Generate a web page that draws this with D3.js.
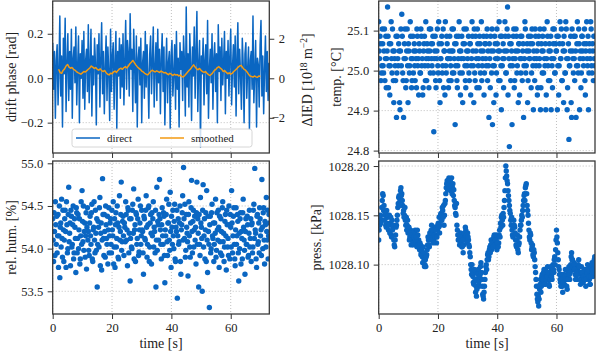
<!DOCTYPE html>
<html>
<head>
<meta charset="utf-8">
<script src="https://cdn.jsdelivr.net/npm/d3@7"></script>
<style>
  body { margin: 0; background: #fff; }
  svg { display: block; font-family: "Liberation Serif", "DejaVu Serif", serif; }
</style>
</head>
<body>
<svg id="fig" width="596" height="354"></svg>
<script>
// sampling step of all series [s]; the *B arrays are sampled halfway between
var dt = 0.3;

// drift phase [rad], direct
var driftPhase = [
  0.16, -0.05, 0.12, -0.18, 0.08, 0.15, -0.12, 0.04, 0.28, -0.08, 0.10, -0.22, 0.18, 0.02, 0.27, -0.15, 0.06, 0.20, -0.10, 0.12,
  -0.05, 0.22, -0.18, 0.09, 0.14, -0.02, 0.23, -0.12, 0.05, 0.19, -0.20, 0.11, 0.00, 0.17, -0.09, 0.21, -0.14, 0.08, 0.13, -0.06,
  0.24, -0.11, 0.06, 0.22, -0.17, 0.10, -0.03, 0.18, 0.07, -0.21, 0.15, 0.02, 0.20, -0.13, 0.09, 0.25, -0.07, 0.12, -0.16, 0.05,
  0.19, -0.10, 0.14, 0.03, -0.19, 0.22, -0.06, 0.10, 0.16, -0.14, 0.07, 0.21, -0.23, 0.12, 0.01, 0.18, -0.09, 0.15, -0.04, 0.20,
  -0.12, 0.08, 0.26, -0.05, 0.17, 0.11, -0.08, 0.29, 0.04, 0.13, -0.15, 0.22, 0.06, -0.11, 0.19, -0.22, 0.09, 0.14, -0.03, 0.18,
  -0.20, 0.07, 0.12, -0.09, 0.21, -0.04, 0.15, 0.01, -0.18, 0.11, 0.19, -0.07, 0.08, 0.23, -0.13, 0.05, 0.16, -0.10, 0.22, -0.02,
  0.13, -0.16, 0.09, 0.20, -0.06, 0.14, -0.21, 0.03, 0.18, -0.11, 0.07, 0.12, -0.23, 0.10, 0.17, -0.08, 0.02, 0.15, -0.14, 0.21,
  -0.05, 0.09, -0.22, 0.16, 0.04, 0.12, -0.10, 0.19, 0.07, -0.17, 0.32, -0.04, 0.11, -0.13, 0.20, 0.06, -0.19, 0.14, 0.01, 0.23,
  -0.09, 0.12, 0.30, -0.15, 0.06, 0.17, -0.31, 0.10, 0.02, 0.18, -0.12, 0.08, 0.15, -0.07, 0.26, -0.18, 0.04, 0.13, -0.02, 0.20,
  -0.14, 0.09, 0.16, -0.06, 0.11, -0.20, 0.24, 0.03, 0.14, -0.10, 0.18, -0.03, 0.07, 0.21, -0.16, 0.12, 0.00, 0.17, -0.08, 0.10,
  0.22, -0.12, 0.05, 0.15, -0.04, 0.19, -0.17, 0.09, 0.25, -0.07, 0.13, 0.02, -0.14, 0.18, 0.06, -0.20, 0.11, 0.16, -0.09, 0.04,
  0.14, -0.23, 0.08, 0.12, -0.05, 0.28, -0.11, 0.03, 0.17, -0.22, 0.09, 0.06, -0.13, 0.15, 0.26, -0.08, 0.10, -0.16, 0.04, 0.19,
  -0.06, 0.12, -0.10, 0.07
];

// drift phase [rad], smoothed (starts at 2 s, every 0.5 s)
var smoothStart = 2.0, smoothStep = 0.5;
var driftSmooth = [
  0.040, 0.025, 0.022, 0.035, 0.042, 0.055, 0.062, 0.050, 0.045, 0.048,
  0.040, 0.036, 0.030, 0.025, 0.022, 0.018, 0.024, 0.030, 0.028, 0.034,
  0.040, 0.046, 0.055, 0.050, 0.044, 0.048, 0.040, 0.036, 0.042, 0.034,
  0.030, 0.035, 0.025, 0.018, 0.015, 0.022, 0.020, 0.028, 0.032, 0.026,
  0.035, 0.042, 0.045, 0.040, 0.048, 0.052, 0.046, 0.055, 0.065, 0.072,
  0.080, 0.070, 0.060, 0.052, 0.045, 0.040, 0.032, 0.028, 0.022, 0.018,
  0.015, 0.022, 0.030, 0.036, 0.032, 0.028, 0.033, 0.030, 0.026, 0.032,
  0.028, 0.024, 0.026, 0.020, 0.016, 0.022, 0.018, 0.012, 0.018, 0.014,
  0.016, 0.010, 0.014, 0.008, 0.005, 0.012, 0.020, 0.028, 0.036, 0.042,
  0.052, 0.060, 0.050, 0.042, 0.038, 0.044, 0.035, 0.030, 0.026, 0.030,
  0.022, 0.016, 0.012, 0.018, 0.026, 0.035, 0.040, 0.048, 0.052, 0.045,
  0.040, 0.030, 0.034, 0.026, 0.020, 0.024, 0.018, 0.022, 0.030, 0.036,
  0.042, 0.050, 0.055, 0.058, 0.048, 0.040, 0.036, 0.028, 0.018, 0.010,
  0.008, 0.005, 0.010, 0.006, 0.004, 0.010, 0.008
];

// temperature [°C]
var temperature = [
  25.122, 25.030, 25.067, 24.994, 25.104, 25.012, 25.049, 24.975, 25.086, 25.030, 25.159, 24.957, 25.067, 25.012, 25.122, 24.994, 25.049, 24.920, 25.030, 24.975,
  24.883, 25.086, 25.012, 25.049, 24.902, 25.104, 25.141, 24.994, 24.883, 25.067, 25.030, 24.975, 25.104, 24.920, 25.049, 25.012, 25.086, 24.957, 25.030, 24.994,
  25.067, 24.975, 25.030, 25.104, 25.012, 24.939, 25.049, 24.994, 25.086, 25.030, 24.957, 25.067, 25.012, 25.122, 24.975, 25.049, 25.030, 25.104, 24.994, 25.067,
  25.012, 25.086, 24.847, 25.049, 24.975, 25.030, 25.104, 24.994, 25.067, 24.920, 25.030, 25.086, 25.012, 24.957, 25.049, 25.122, 24.994, 25.067, 25.030, 24.975,
  25.086, 25.012, 25.049, 24.994, 25.104, 25.030, 24.865, 25.067, 24.975, 25.012, 25.086, 25.049, 24.939, 25.030, 24.994, 25.067, 25.104, 25.012, 24.957, 25.049,
  25.030, 25.086, 24.975, 25.067, 25.012, 25.122, 25.049, 24.920, 24.994, 25.086, 25.030, 25.104, 25.012, 24.957, 25.067, 25.049, 24.975, 25.030, 25.086, 24.994,
  25.067, 25.012, 25.104, 25.049, 24.883, 25.030, 25.086, 24.994, 24.865, 25.049, 25.012, 25.067, 24.939, 25.104, 25.030, 24.975, 25.049, 25.086, 24.902, 25.012,
  25.067, 25.030, 25.122, 24.994, 25.049, 25.159, 25.086, 24.810, 25.012, 25.067, 24.865, 25.030, 25.104, 24.975, 25.049, 25.086, 25.012, 24.920, 25.067, 25.030,
  24.994, 25.086, 25.049, 24.883, 25.030, 25.104, 25.012, 25.067, 24.975, 25.049, 25.030, 25.086, 24.994, 25.067, 24.902, 25.030, 25.104, 25.012, 25.049, 24.957,
  25.086, 25.030, 24.902, 25.067, 24.994, 25.049, 25.104, 25.012, 24.902, 25.030, 25.086, 24.975, 25.067, 25.049, 24.902, 25.012, 25.104, 25.030, 24.994, 25.067,
  25.049, 24.902, 25.086, 25.012, 25.122, 25.030, 24.975, 25.067, 24.920, 25.049, 24.994, 25.104, 24.902, 25.030, 24.828, 25.012, 25.086, 24.883, 25.049, 24.994,
  25.030, 25.086, 24.883, 25.067, 25.012, 25.104, 24.902, 25.049, 24.994, 25.086, 25.030, 25.067, 24.975, 25.049, 25.122, 25.012, 24.902, 25.067, 25.030, 25.104,
  24.994, 25.049, 25.086, 25.012
];
var temperatureB = [
  25.049, 25.086, 24.975, 25.012, 25.067, 24.994, 25.104, 25.030, 24.957, 25.049, 25.086, 25.012, 24.939, 25.067, 25.030, 25.104, 24.975, 25.049, 25.012, 25.086,
  24.994, 25.030, 25.067, 24.920, 25.049, 25.012, 25.086, 24.975, 25.030, 25.104, 24.957, 25.049, 25.012, 25.067, 24.994, 25.122, 25.030, 24.975, 25.086, 25.049,
  25.012, 25.049, 24.957, 25.086, 25.030, 25.067, 24.994, 25.104, 25.012, 24.939, 25.049, 25.086, 24.975, 25.030, 25.067, 25.012, 24.957, 25.049, 25.104, 25.030,
  25.067, 24.994, 25.030, 25.086, 24.957, 25.049, 25.012, 25.122, 24.975, 25.030, 25.067, 24.994, 25.104, 25.049, 24.939, 25.012, 25.086, 25.030, 24.957, 25.049,
  25.030, 24.975, 25.104, 25.049, 24.994, 25.067, 25.012, 25.086, 24.957, 25.030, 25.122, 24.994, 25.049, 25.086, 24.920, 25.030, 25.067, 24.975, 25.104, 25.012,
  25.049, 24.994, 25.067, 24.939, 25.030, 25.086, 25.012, 25.104, 24.975, 25.049, 24.957, 25.067, 25.030, 25.086, 24.994, 25.122, 25.012, 25.049, 24.939, 25.067,
  25.030, 25.086, 24.975, 25.012, 25.067, 24.957, 25.049, 25.104, 25.012, 24.920, 25.086, 25.030, 24.994, 25.067, 25.049, 25.122, 24.975, 25.012, 25.086, 25.030,
  24.957, 25.049, 25.086, 24.994, 25.104, 24.939, 25.030, 25.067, 24.975, 25.049, 25.012, 25.086, 24.957, 25.030, 25.104, 24.994, 25.049, 25.067, 24.939, 25.086,
  25.030, 24.975, 25.067, 25.012, 25.122, 24.994, 25.049, 24.920, 25.086, 25.030, 25.067, 24.957, 25.104, 25.012, 25.049, 24.975, 25.086, 25.030, 24.939, 25.067,
  25.012, 25.104, 24.957, 25.049, 25.086, 24.994, 25.030, 25.067, 24.939, 25.122, 25.012, 25.049, 24.975, 25.086, 25.030, 24.957, 25.067, 25.104, 24.994, 25.049,
  25.086, 25.012, 24.939, 25.067, 25.030, 25.104, 24.975, 25.049, 25.086, 24.994, 25.122, 25.030, 24.957, 25.067, 25.012, 25.049, 24.920, 25.104, 25.030, 25.086,
  24.975, 25.049, 25.012, 25.122, 24.994, 25.067, 25.030, 24.957, 25.086, 25.049, 25.012, 25.104, 24.939, 25.067, 25.030, 25.086, 24.994, 25.049, 25.122, 25.012,
  25.067, 24.975, 25.030, 25.086
];

// relative humidity [%]
var humidity = [
  54.35, 53.85, 54.20, 54.55, 54.05, 53.95, 54.40, 54.15, 53.66, 54.30, 54.58, 53.90, 54.22, 54.10, 54.45, 53.78, 54.28, 54.00, 54.72, 54.18,
  53.80, 54.38, 54.05, 54.50, 53.95, 54.25, 53.72, 54.42, 54.12, 54.00, 54.35, 53.88, 54.55, 54.68, 54.08, 53.98, 54.30, 54.15, 53.76, 54.48,
  54.20, 53.92, 54.38, 54.05, 54.52, 53.85, 54.25, 54.10, 54.45, 53.98, 53.55, 54.32, 54.02, 54.60, 54.18, 53.75, 54.82, 54.12, 54.40, 53.90,
  54.28, 54.05, 53.82, 54.48, 54.15, 54.35, 53.95, 54.22, 54.55, 54.02, 53.78, 54.42, 54.12, 54.30, 53.88, 54.62, 54.20, 54.78, 54.08, 54.38,
  53.92, 54.25, 54.55, 54.10, 53.80, 54.45, 54.18, 53.62, 54.35, 54.00, 54.52, 54.70, 54.22, 53.85, 54.40, 54.12, 54.58, 53.96, 54.30, 54.05,
  54.45, 54.20, 53.70, 54.35, 54.10, 54.62, 53.90, 54.28, 54.50, 54.02, 54.40, 53.82, 54.15, 54.55, 54.25, 53.95, 53.55, 54.72, 54.32, 54.10,
  54.81, 54.22, 53.88, 54.48, 54.05, 54.38, 53.60, 54.15, 54.58, 53.92, 54.30, 54.10, 54.66, 53.78, 54.25, 54.45, 54.00, 54.52, 53.85, 54.20,
  53.42, 54.35, 54.08, 54.50, 53.70, 54.28, 54.62, 54.95, 54.12, 53.90, 54.40, 54.18, 53.68, 54.55, 54.02, 54.30, 54.80, 53.95, 54.45, 54.22,
  54.10, 53.82, 54.78, 54.35, 53.55, 54.05, 54.60, 54.25, 53.50, 54.75, 54.15, 53.88, 54.42, 54.68, 53.72, 54.20, 53.31, 54.38, 54.00, 54.52,
  54.12, 53.85, 54.30, 54.58, 53.98, 54.22, 54.45, 53.78, 54.08, 54.35, 53.92, 54.55, 54.18, 54.02, 54.40, 53.75, 54.28, 54.12, 54.50, 53.88,
  54.25, 54.68, 53.95, 54.38, 54.05, 53.80, 54.48, 54.15, 54.32, 53.62, 54.00, 54.42, 54.20, 53.88, 54.58, 54.10, 53.70, 54.35, 54.05, 54.28,
  53.92, 54.45, 54.12, 53.85, 54.30, 54.02, 54.52, 54.94, 54.18, 53.78, 54.40, 54.08, 53.95, 54.35, 54.22, 54.81, 54.00, 54.48, 53.82, 54.28,
  54.60, 54.10, 53.88, 54.40
];
var humidityB = [
  54.10, 54.42, 53.92, 54.28, 54.38, 54.15, 53.78, 54.50, 54.25, 54.02, 54.12, 54.45, 53.85, 54.35, 54.20, 54.55, 53.95, 54.40, 54.08, 54.30,
  54.45, 54.02, 54.28, 53.88, 54.35, 54.12, 54.48, 53.95, 54.40, 54.22, 53.82, 54.15, 54.05, 54.32, 54.50, 54.20, 53.90, 54.42, 54.25, 54.10,
  53.98, 54.30, 54.15, 54.42, 53.88, 54.22, 54.55, 53.95, 54.18, 54.35, 54.05, 54.25, 54.48, 53.80, 54.30, 54.10, 54.40, 53.92, 54.20, 54.50,
  54.12, 54.38, 54.22, 53.95, 54.30, 54.05, 54.45, 54.15, 53.82, 54.35, 54.28, 54.02, 54.50, 53.90, 54.25, 54.10, 54.40, 53.98, 54.32, 54.15,
  54.30, 54.08, 54.40, 54.22, 54.48, 53.95, 54.35, 54.12, 54.02, 54.45, 54.18, 53.88, 54.28, 54.42, 54.05, 54.35, 53.92, 54.22, 54.50, 54.15,
  54.22, 53.95, 54.38, 54.12, 54.45, 54.25, 54.05, 54.48, 53.85, 54.30, 54.18, 54.42, 54.35, 54.02, 54.20, 54.45, 54.10, 53.98, 54.28, 54.40,
  54.35, 54.05, 54.28, 54.15, 54.42, 53.92, 54.22, 54.40, 54.08, 54.30, 54.52, 53.98, 54.20, 54.38, 54.05, 54.15, 54.32, 53.88, 54.25, 54.45,
  54.15, 54.05, 54.30, 53.85, 54.22, 54.42, 54.10, 54.35, 54.52, 53.98, 54.25, 54.08, 54.40, 54.15, 53.90, 54.48, 54.20, 54.32, 54.02, 54.38,
  54.25, 54.42, 54.05, 54.18, 54.40, 53.92, 54.30, 54.12, 54.45, 54.02, 54.35, 54.22, 53.85, 54.10, 54.38, 54.05, 54.28, 53.95, 54.42, 54.15,
  54.30, 54.05, 54.18, 53.90, 54.42, 54.10, 54.25, 54.38, 53.95, 54.20, 54.48, 54.08, 53.85, 54.32, 54.15, 54.45, 54.02, 53.92, 54.28, 54.40,
  54.02, 54.30, 54.15, 54.48, 53.88, 54.22, 54.05, 54.40, 53.95, 54.18, 54.35, 53.82, 54.12, 54.42, 54.25, 53.98, 54.20, 54.05, 54.38, 53.90,
  54.18, 54.02, 54.35, 54.28, 53.95, 54.45, 54.12, 54.22, 53.88, 54.38, 54.05, 54.30, 54.48, 54.15, 53.92, 54.25, 54.42, 54.10, 54.32, 54.02,
  54.20, 54.45, 54.15, 54.30
];

// pressure [kPa]
var pressure = [
  1028.125, 1028.140, 1028.150, 1028.145, 1028.165, 1028.170, 1028.160, 1028.150, 1028.140, 1028.155, 1028.148, 1028.135, 1028.150, 1028.142, 1028.130, 1028.145, 1028.138, 1028.125, 1028.118, 1028.130,
  1028.140, 1028.150, 1028.162, 1028.170, 1028.165, 1028.178, 1028.172, 1028.160, 1028.155, 1028.150, 1028.145, 1028.148, 1028.140, 1028.132, 1028.138, 1028.128, 1028.135, 1028.125, 1028.130, 1028.120,
  1028.128, 1028.135, 1028.122, 1028.118, 1028.130, 1028.125, 1028.115, 1028.120, 1028.112, 1028.108, 1028.118, 1028.105, 1028.100, 1028.098, 1028.110, 1028.120, 1028.125, 1028.118, 1028.130, 1028.135,
  1028.128, 1028.132, 1028.125, 1028.138, 1028.130, 1028.122, 1028.135, 1028.142, 1028.148, 1028.140, 1028.152, 1028.145, 1028.155, 1028.160, 1028.150, 1028.165, 1028.178, 1028.185, 1028.180, 1028.188,
  1028.182, 1028.175, 1028.188, 1028.178, 1028.170, 1028.165, 1028.158, 1028.150, 1028.140, 1028.130, 1028.125, 1028.120, 1028.132, 1028.128, 1028.118, 1028.112, 1028.125, 1028.130, 1028.135, 1028.128,
  1028.132, 1028.125, 1028.118, 1028.108, 1028.095, 1028.100, 1028.088, 1028.080, 1028.092, 1028.072, 1028.068, 1028.085, 1028.095, 1028.078, 1028.090, 1028.102, 1028.085, 1028.070, 1028.065, 1028.078,
  1028.092, 1028.100, 1028.105, 1028.112, 1028.108, 1028.118, 1028.120, 1028.115, 1028.125, 1028.122, 1028.130, 1028.118, 1028.125, 1028.115, 1028.128, 1028.122, 1028.135, 1028.142, 1028.148, 1028.145,
  1028.152, 1028.158, 1028.175, 1028.200, 1028.190, 1028.182, 1028.170, 1028.160, 1028.152, 1028.140, 1028.135, 1028.128, 1028.145, 1028.138, 1028.125, 1028.118, 1028.130, 1028.112, 1028.122, 1028.135,
  1028.140, 1028.150, 1028.155, 1028.165, 1028.172, 1028.178, 1028.182, 1028.160, 1028.150, 1028.135, 1028.125, 1028.130, 1028.115, 1028.120, 1028.108, 1028.112, 1028.098, 1028.085, 1028.070, 1028.062,
  1028.058, 1028.075, 1028.085, 1028.078, 1028.090, 1028.082, 1028.095, 1028.088, 1028.080, 1028.092, 1028.098, 1028.085, 1028.078, 1028.090, 1028.095, 1028.085, 1028.100, 1028.092, 1028.108, 1028.115,
  1028.135, 1028.122, 1028.105, 1028.095, 1028.085, 1028.078, 1028.090, 1028.072, 1028.085, 1028.080, 1028.095, 1028.088, 1028.075, 1028.092, 1028.098, 1028.085, 1028.100, 1028.112, 1028.105, 1028.095,
  1028.102, 1028.090, 1028.098, 1028.085, 1028.095, 1028.105, 1028.092, 1028.080, 1028.098, 1028.088, 1028.082, 1028.095, 1028.090, 1028.078, 1028.088, 1028.100, 1028.092, 1028.085, 1028.080, 1028.095,
  1028.102, 1028.088, 1028.098, 1028.108
];
var pressureB = [
  1028.135, 1028.148, 1028.142, 1028.158, 1028.172, 1028.155, 1028.145, 1028.152, 1028.138, 1028.142, 1028.150, 1028.140, 1028.132, 1028.148, 1028.128, 1028.135, 1028.140, 1028.120, 1028.125, 1028.138,
  1028.145, 1028.158, 1028.168, 1028.160, 1028.175, 1028.170, 1028.165, 1028.152, 1028.148, 1028.158, 1028.140, 1028.135, 1028.145, 1028.138, 1028.125, 1028.132, 1028.120, 1028.130, 1028.122, 1028.128,
  1028.132, 1028.125, 1028.128, 1028.135, 1028.120, 1028.118, 1028.122, 1028.110, 1028.115, 1028.102, 1028.112, 1028.098, 1028.105, 1028.108, 1028.115, 1028.128, 1028.120, 1028.132, 1028.125, 1028.140,
  1028.135, 1028.122, 1028.130, 1028.128, 1028.135, 1028.128, 1028.140, 1028.138, 1028.132, 1028.150, 1028.145, 1028.158, 1028.148, 1028.140, 1028.162, 1028.172, 1028.182, 1028.176, 1028.186, 1028.178,
  1028.185, 1028.180, 1028.172, 1028.182, 1028.176, 1028.160, 1028.152, 1028.162, 1028.135, 1028.125, 1028.130, 1028.128, 1028.122, 1028.118, 1028.125, 1028.120, 1028.132, 1028.138, 1028.130, 1028.122,
  1028.128, 1028.120, 1028.112, 1028.100, 1028.090, 1028.092, 1028.082, 1028.095, 1028.085, 1028.078, 1028.075, 1028.090, 1028.082, 1028.088, 1028.098, 1028.092, 1028.078, 1028.068, 1028.072, 1028.085,
  1028.098, 1028.095, 1028.110, 1028.105, 1028.115, 1028.112, 1028.125, 1028.122, 1028.118, 1028.128, 1028.120, 1028.125, 1028.130, 1028.122, 1028.118, 1028.130, 1028.128, 1028.138, 1028.150, 1028.140,
  1028.148, 1028.165, 1028.188, 1028.195, 1028.185, 1028.175, 1028.165, 1028.155, 1028.145, 1028.148, 1028.130, 1028.138, 1028.140, 1028.132, 1028.120, 1028.125, 1028.115, 1028.120, 1028.128, 1028.140,
  1028.145, 1028.148, 1028.160, 1028.170, 1028.165, 1028.180, 1028.172, 1028.155, 1028.142, 1028.128, 1028.132, 1028.122, 1028.118, 1028.110, 1028.115, 1028.105, 1028.092, 1028.078, 1028.065, 1028.068,
  1028.065, 1028.080, 1028.072, 1028.088, 1028.085, 1028.092, 1028.080, 1028.095, 1028.085, 1028.088, 1028.092, 1028.080, 1028.085, 1028.098, 1028.088, 1028.092, 1028.095, 1028.105, 1028.100, 1028.125,
  1028.128, 1028.112, 1028.098, 1028.090, 1028.082, 1028.085, 1028.078, 1028.082, 1028.090, 1028.088, 1028.085, 1028.078, 1028.085, 1028.095, 1028.090, 1028.092, 1028.108, 1028.105, 1028.098, 1028.100,
  1028.095, 1028.085, 1028.092, 1028.090, 1028.100, 1028.098, 1028.085, 1028.090, 1028.092, 1028.082, 1028.088, 1028.085, 1028.095, 1028.085, 1028.092, 1028.095, 1028.088, 1028.080, 1028.088, 1028.098,
  1028.095, 1028.092, 1028.105, 1028.100
];

// tick values
var timeTicks = [0, 20, 40, 60];
var phaseTicks = [-0.2, 0.0, 0.2];
var iedTicks = [-2, 0, 2];
var tempTicks = [24.8, 24.9, 25.0, 25.1];
var humTicks = [53.5, 54.0, 54.5, 55.0];
var pressTicks = [1028.10, 1028.15, 1028.20];

var blue = "#0a66c2", orange = "#f39a12";
var tickFont = 12.5, labelFont = 14;

var svg = d3.select("#fig");
var defs = svg.append("defs");

function makePanel(id, box, yDomain) {
  var x = d3.scaleLinear().domain([0, 73]).range([box.x0, box.x1]);
  var y = d3.scaleLinear().domain(yDomain).range([box.y1, box.y0]);
  defs.append("clipPath").attr("id", "clip-" + id).append("rect")
    .attr("x", box.x0).attr("y", box.y0)
    .attr("width", box.x1 - box.x0).attr("height", box.y1 - box.y0);
  var g = svg.append("g");
  return {x: x, y: y, g: g, box: box, clip: "url(#clip-" + id + ")"};
}

function drawGrid(p, yTicks) {
  var gg = p.g.append("g").attr("stroke", "#b0b0b0").attr("stroke-width", 0.8).attr("stroke-dasharray", "1,2");
  gg.selectAll("line.v").data(timeTicks).join("line").attr("class", "v")
    .attr("x1", function(d){ return p.x(d); }).attr("x2", function(d){ return p.x(d); })
    .attr("y1", p.box.y0).attr("y2", p.box.y1);
  gg.selectAll("line.h").data(yTicks).join("line").attr("class", "h")
    .attr("y1", function(d){ return p.y(d); }).attr("y2", function(d){ return p.y(d); })
    .attr("x1", p.box.x0).attr("x2", p.box.x1);
}

function styleAxis(ax) {
  ax.select(".domain").remove();
  ax.attr("font-family", "Liberation Serif, DejaVu Serif, serif").attr("font-size", tickFont);
  ax.selectAll("line").attr("stroke", "#333").attr("stroke-width", 1);
  ax.selectAll("text").attr("fill", "#222");
}

function drawAxes(p, yTicks, yFmt, showX) {
  var ax = p.g.append("g").attr("transform", "translate(0," + p.box.y1 + ")")
    .call(d3.axisBottom(p.x).tickValues(timeTicks).tickSize(5).tickPadding(4)
      .tickFormat(showX ? d3.format("d") : function(){ return ""; }));
  styleAxis(ax);
  var ay = p.g.append("g").attr("transform", "translate(" + p.box.x0 + ",0)")
    .call(d3.axisLeft(p.y).tickValues(yTicks).tickSize(5).tickPadding(4.5).tickFormat(yFmt));
  styleAxis(ay);
}

function drawFrame(p) {
  p.g.append("rect").attr("x", p.box.x0).attr("y", p.box.y0)
    .attr("width", p.box.x1 - p.box.x0).attr("height", p.box.y1 - p.box.y0)
    .attr("fill", "none").attr("stroke", "#333").attr("stroke-width", 1.25);
}

function yLabel(x, y, text) {
  return svg.append("text").attr("transform", "translate(" + x + "," + y + ") rotate(-90)")
    .attr("text-anchor", "middle").attr("font-size", labelFont).attr("fill", "#222").text(text);
}

function scatter(p, values, valuesB) {
  var pts = values.map(function(v, i){ return [i * dt, v]; })
    .concat(valuesB.map(function(v, i){ return [(i + 0.5) * dt, v]; }));
  p.g.append("g").attr("clip-path", p.clip).selectAll("circle").data(pts).join("circle")
    .attr("cx", function(d){ return p.x(d[0]); })
    .attr("cy", function(d){ return p.y(d[1]); })
    .attr("r", 2.7).attr("fill", blue);
}

// ---- top left: drift phase ----
var pPhase = makePanel("phase", {x0: 52.7, x1: 269.3, y0: 1, y1: 153}, [-0.3366, 0.3474]);
var yIed = d3.scaleLinear().domain([-3.78, 3.91]).range([153, 1]);
drawGrid(pPhase, phaseTicks);
var gl = pPhase.g.append("g").attr("clip-path", pPhase.clip);
gl.append("path").datum(driftPhase)
  .attr("fill", "none").attr("stroke", blue).attr("stroke-width", 1.5).attr("stroke-linejoin", "round")
  .attr("d", d3.line().x(function(d, i){ return pPhase.x(i * dt); }).y(function(d){ return pPhase.y(d); }));
gl.append("path").datum(driftSmooth)
  .attr("fill", "none").attr("stroke", orange).attr("stroke-width", 1.5).attr("stroke-linejoin", "round")
  .attr("d", d3.line().x(function(d, i){ return pPhase.x(smoothStart + i * smoothStep); }).y(function(d){ return pPhase.y(d); }));
drawAxes(pPhase, phaseTicks, d3.format(".1f"), false);
var ar = pPhase.g.append("g").attr("transform", "translate(" + pPhase.box.x1 + ",0)")
  .call(d3.axisRight(yIed).tickValues(iedTicks).tickSize(5).tickPadding(4.5).tickFormat(d3.format("d")));
styleAxis(ar);
ar.selectAll("text").attr("text-anchor", "end").attr("x", 15.7);

// legend
var leg = pPhase.g.append("g");
leg.append("rect").attr("x", 72).attr("y", 129).attr("width", 180).attr("height", 18).attr("rx", 2.5)
  .attr("fill", "#fff").attr("fill-opacity", 0.8).attr("stroke", "#cccccc").attr("stroke-width", 0.8);
var legItems = [{name: "direct", color: blue, x: 76}, {name: "smoothed", color: orange, x: 160}];
legItems.forEach(function(it){
  leg.append("line").attr("x1", it.x).attr("x2", it.x + 24).attr("y1", 138).attr("y2", 138)
    .attr("stroke", it.color).attr("stroke-width", 1.5);
  leg.append("text").attr("x", it.x + 31).attr("y", 141.5).attr("font-size", 11).attr("fill", "#222").text(it.name);
});
drawFrame(pPhase);

// ---- top right: temperature ----
var pTemp = makePanel("temp", {x0: 378.7, x1: 595, y0: 1, y1: 153}, [24.794, 25.174]);
drawGrid(pTemp, tempTicks);
scatter(pTemp, temperature, temperatureB);
drawAxes(pTemp, tempTicks, d3.format(".1f"), false);
drawFrame(pTemp);

// ---- bottom left: humidity ----
var pHum = makePanel("hum", {x0: 52.7, x1: 269.3, y0: 161, y1: 314}, [53.234, 55.027]);
drawGrid(pHum, humTicks);
scatter(pHum, humidity, humidityB);
drawAxes(pHum, humTicks, d3.format(".1f"), true);
drawFrame(pHum);

// ---- bottom right: pressure ----
var pPress = makePanel("press", {x0: 378.7, x1: 595, y0: 161, y1: 314}, [1028.0499, 1028.2051]);
drawGrid(pPress, pressTicks);
scatter(pPress, pressure, pressureB);
drawAxes(pPress, pressTicks, d3.format(".2f"), true);
drawFrame(pPress);

// axis labels
yLabel(16, 77, "drift phase [rad]");
yLabel(16, 237.5, "rel. hum. [%]");
yLabel(341, 77, "temp. [°C]");
yLabel(321, 237.5, "press. [kPa]");
var ied = svg.append("text").attr("transform", "translate(312,80) rotate(-90)")
  .attr("text-anchor", "middle").attr("font-size", labelFont).attr("fill", "#222");
ied.append("tspan").text("ΔIED [10");
ied.append("tspan").attr("baseline-shift", "super").attr("font-size", 9.5).text("18");
ied.append("tspan").text(" m");
ied.append("tspan").attr("baseline-shift", "super").attr("font-size", 9.5).text("−2");
ied.append("tspan").text("]");
[161, 487].forEach(function(cx){
  svg.append("text").attr("x", cx).attr("y", 348).attr("text-anchor", "middle")
    .attr("font-size", labelFont).attr("fill", "#222").text("time [s]");
});
</script>
</body>
</html>
